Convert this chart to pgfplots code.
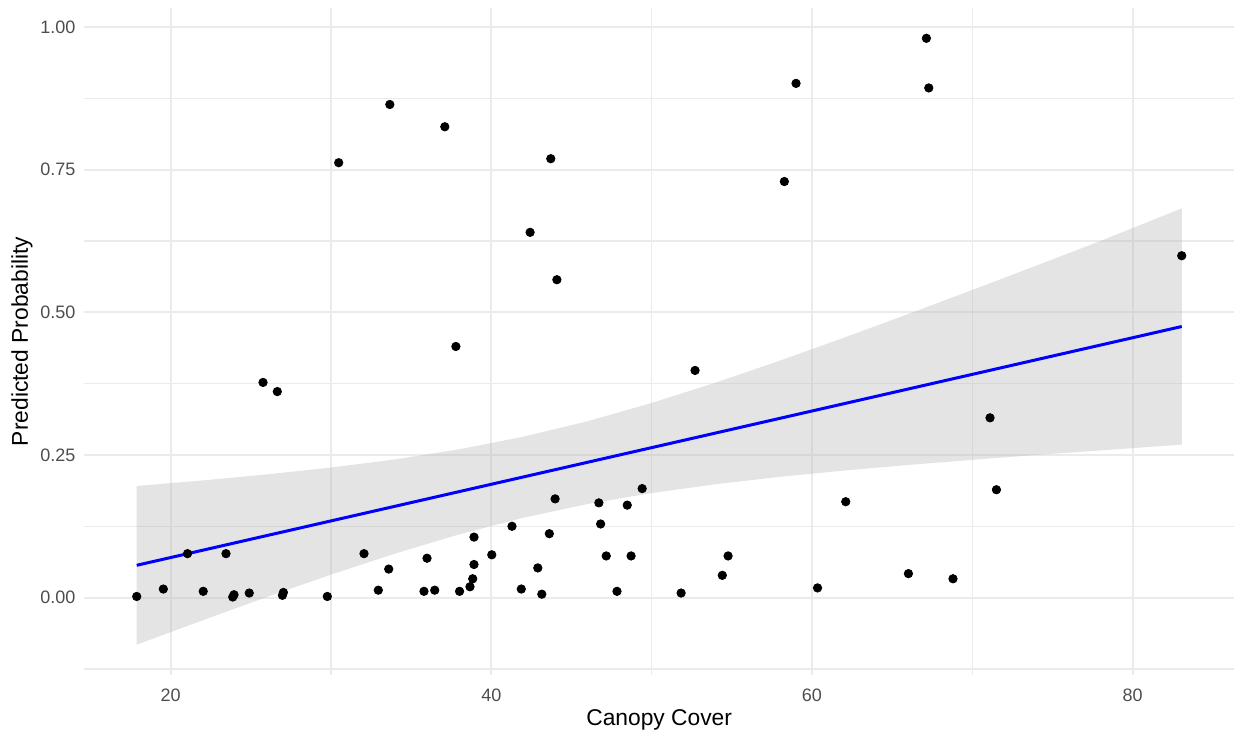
\documentclass[border=0pt]{standalone}
\usepackage{fontspec}
\setmainfont{Liberation Sans}
\usepackage{pgfplots}
\pgfplotsset{compat=1.18}
\definecolor{gridgray}{HTML}{EBEBEB}
\definecolor{ticktext}{HTML}{4D4D4D}
\definecolor{ribbon}{HTML}{BBBBBB}

\begin{document}
\begin{tikzpicture}
\useasboundingbox (-42.15pt,-28pt) rectangle (575.9pt,337.5pt);
\begin{axis}[
  at={(0,0)}, anchor=south west,
  scale only axis,
  width=574.9pt, height=333.5pt,
  xmin=14.61, xmax=86.33,
  ymin=-0.1355, ymax=1.0331,
  xtick={20,40,60,80},
  minor xtick={30,50,70},
  ytick={0,0.25,0.5,0.75,1},
  minor ytick={-0.125,0.125,0.375,0.625,0.875},
  yticklabels={0.00,0.25,0.50,0.75,1.00},
  grid=both,
  major grid style={draw=gridgray, line width=1pt},
  minor grid style={draw=gridgray, line width=0.7pt},
  axis line style={draw=none},
  major tick length=0pt, minor tick length=0pt,
  tick style={draw=none},
  /pgf/number format/assume math mode=true,
  tick label style={font=\fontsize{9}{10}\selectfont, text=ticktext, inner sep=0pt},
  xticklabel style={anchor=north, yshift=-6.6pt},
  yticklabel style={anchor=east, xshift=-4.2pt},
  xlabel={Canopy Cover},
  ylabel={Predicted Probability},
  every axis x label/.style={at={(axis description cs:0.5,-0.051)}, anchor=north,
    inner sep=0pt, font=\fontsize{11.4}{13}\selectfont},
  every axis y label/.style={at={(axis description cs:-0.0447,0.5)}, rotate=90, anchor=south,
    inner sep=0pt, font=\fontsize{11.4}{13}\selectfont},
]
% observations
\addplot[only marks, mark=*, mark size=2.1pt, color=black] table {
x y
17.88 0.002
19.54 0.015
21.05 0.077
22.03 0.011
23.45 0.077
23.87 0.001
23.95 0.005
24.90 0.008
25.76 0.377
26.65 0.361
26.97 0.004
27.03 0.009
29.77 0.002
30.48 0.762
32.06 0.077
32.95 0.013
33.60 0.050
33.67 0.864
35.80 0.011
35.99 0.069
36.47 0.013
37.10 0.825
37.79 0.440
38.02 0.011
38.67 0.019
38.84 0.033
38.92 0.058
38.92 0.106
40.03 0.075
41.29 0.125
41.87 0.015
42.42 0.640
42.90 0.052
43.15 0.006
43.62 0.112
43.71 0.769
43.98 0.173
44.09 0.557
46.71 0.166
46.82 0.129
47.17 0.073
47.84 0.011
48.48 0.162
48.72 0.073
49.41 0.191
51.84 0.008
52.71 0.398
54.41 0.039
54.77 0.073
58.28 0.729
59.01 0.901
60.35 0.017
62.11 0.168
66.02 0.042
67.14 0.980
67.29 0.893
68.80 0.033
71.11 0.315
71.51 0.189
83.07 0.599
};
% confidence band: upper edge forward, lower edge back
\addplot[draw=none, fill=ribbon, fill opacity=0.4] table {
x y
17.88 0.1956
22 0.2053
26 0.2159
30 0.2279
34 0.2422
38 0.2598
42 0.2819
46 0.3090
50 0.3410
54 0.3767
58 0.4152
62 0.4554
66 0.4968
70 0.5390
74 0.5817
78 0.6249
83.07 0.6820
83.07 0.2680
78 0.2579
74 0.2499
70 0.2414
66 0.2324
62 0.2226
58 0.2116
54 0.1987
50 0.1832
46 0.1640
42 0.1399
38 0.1108
34 0.0772
30 0.0403
26 0.0011
22 -0.0397
17.88 -0.0824
} -- cycle;
% fitted line
\addplot[color=blue, line width=1.5pt] coordinates {(17.88,0.0566) (83.07,0.4750)};
\end{axis}
\end{tikzpicture}
\end{document}
